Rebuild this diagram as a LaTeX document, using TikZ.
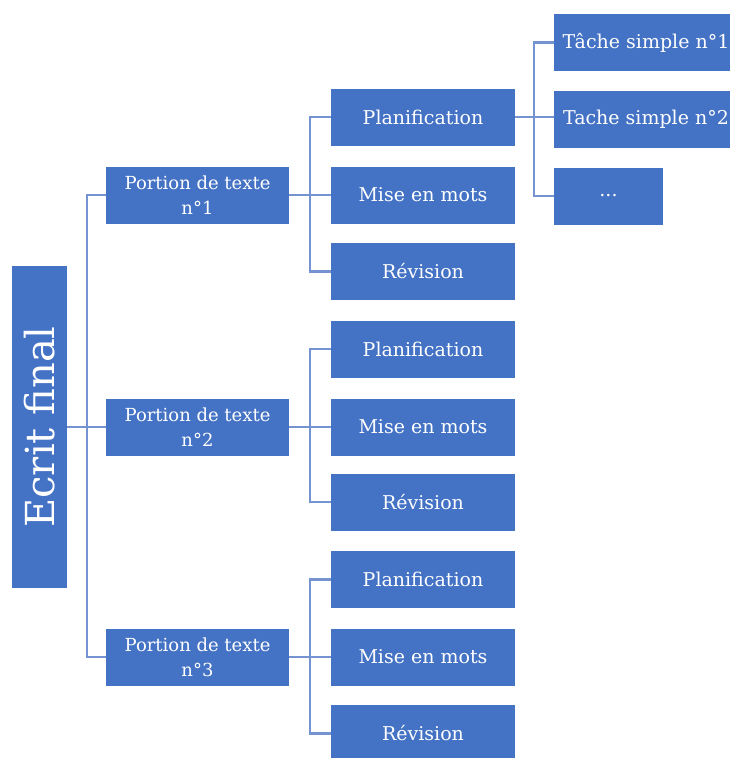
\documentclass[tikz,border=0pt]{standalone}
\usepackage{fontspec}
\setmainfont{DejaVu Serif}
\usepackage{tikz}
\definecolor{boxblue}{HTML}{4472C4}
\definecolor{lineblue}{HTML}{7593D0}

\begin{document}
\begin{tikzpicture}[x=1pt,y=-1pt]
\tikzstyle{every node}+=[inner sep=0pt]
\tikzstyle{box}=[fill=boxblue, text=white, minimum width=184pt, minimum height=57pt, align=center, font=\fontsize{19}{22}\selectfont]
\tikzstyle{portion}=[box, minimum width=183pt, font=\fontsize{18}{25}\selectfont]
\tikzstyle{conn}=[draw=lineblue, line width=2.5pt]
\useasboundingbox (0,0) rectangle (730,758);
\clip (0,0) rectangle (730,758);
\node [fill=boxblue, minimum width=55pt, minimum height=322pt] (root) at (39.5,427) {};
\node [text=white, rotate=90, font=\fontsize{40}{42}\selectfont] (rootlabel) at (root.center) {Ecrit final};
\node [portion] (p1) at (197.5,195) {Portion de texte\\n°1};
\node [portion] (p2) at (197.5,427) {Portion de texte\\n°2};
\node [portion] (p3) at (197.5,657) {Portion de texte\\n°3};
\node [box] (pl1) at (423,117) {Planification};
\node [box] (mi1) at (423,195) {Mise en mots};
\node [box] (re1) at (423,271.5) {Révision};
\node [box] (pl2) at (423,349) {Planification};
\node [box] (mi2) at (423,427) {Mise en mots};
\node [box] (re2) at (423,502) {Révision};
\node [box] (pl3) at (423,579.5) {Planification};
\node [box] (mi3) at (423,657) {Mise en mots};
\node [box] (re3) at (423,733.5) {Révision};
\node [box] (ta1) at (646,42.5) {Tâche simple n°1};
\node [box] (ta2) at (646,119.5) {Tache simple n°2};
\node [box, minimum width=109pt] (dots) at (608.5,196) {...};
\draw [conn] (root.east) -- (p2.west);
\draw [conn] (p1.west) -- ++(-19,0) |- (p3.west);
\draw [conn] (p1.east) -- (mi1.west);
\draw [conn] (pl1.west) -- ++(-21,0) |- (re1.west);
\draw [conn] (p2.east) -- (mi2.west);
\draw [conn] (pl2.west) -- ++(-21,0) |- (re2.west);
\draw [conn] (p3.east) -- (mi3.west);
\draw [conn] (pl3.west) -- ++(-21,0) |- (re3.west);
\draw [conn] (pl1.east) -- (ta2.west |- pl1.east);
\draw [conn] (ta1.west) -- ++(-20,0) |- (dots.west);
\end{tikzpicture}
\end{document}
